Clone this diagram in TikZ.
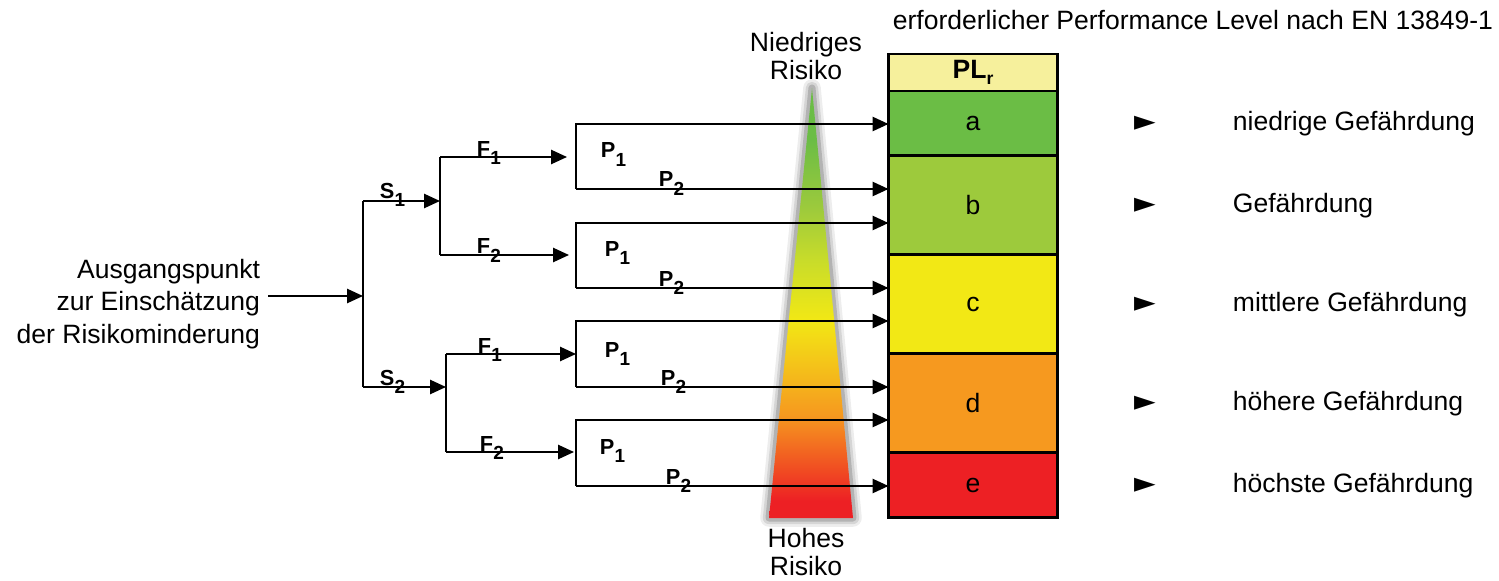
\documentclass[tikz,border=0pt]{standalone}
\usepackage{fontspec}
\setmainfont{Liberation Sans}
\newfontfamily\symfont{DejaVu Sans}
\usetikzlibrary{arrows.meta,positioning}

\definecolor{plhead}{HTML}{F6F09C}
\definecolor{plA}{HTML}{6BBD45}
\definecolor{plB}{HTML}{9DCA3C}
\definecolor{plC}{HTML}{F2E815}
\definecolor{plD}{HTML}{F6991F}
\definecolor{plE}{HTML}{ED2024}
\definecolor{riskYG}{HTML}{C8DC2A}
\pgfdeclareverticalshading{riskshade}{100bp}{color(0bp)=(plE); color(27bp)=(plE); color(37bp)=(plD);
  color(48bp)=(plC); color(55bp)=(riskYG); color(61bp)=(plB); color(69bp)=(plA); color(100bp)=(plA)}
\newcommand{\brl}[2]{\textbf{#1}\raisebox{-5pt}{\fontsize{10.8}{10.8}\selectfont\textbf{#2}}}

\begin{document}
\begin{tikzpicture}[x=0.02cm, y=-0.02cm, line width=1.1pt, font=\fontsize{15.1}{18.4}\selectfont,
    arr/.style={-{Triangle[length=9pt, width=8pt]}},
    row/.style={draw, line width=1.7pt, outer sep=0pt, minimum width=3.38cm, inner sep=0pt},
    txt/.style={inner sep=0pt},
    lbl/.style={anchor=base west, inner sep=0pt, font=\fontsize{12.4}{14}\selectfont},
    sym/.style={inner sep=0pt, font=\symfont\fontsize{16}{16}\selectfont}]
  \useasboundingbox (0,0) rectangle (1499,581);
  % ---------------- risk triangle ----------------
  \foreach \w/\o in {10/0.07, 7/0.10, 4/0.16}
    \draw[line width=\w pt, black, opacity=\o, line join=round] (812,88) -- (853,518) -- (769,518) -- cycle;
  \shade[shading=riskshade] (812,88) -- (853,518) -- (769,518) -- cycle;
  \node[txt, align=center, font=\fontsize{15.1}{16}\selectfont] (low) at (806,56) {Niedriges\\Risiko};
  \node[txt, align=center, font=\fontsize{15.1}{16.4}\selectfont] (high) at (806,552) {Hohes\\Risiko};
  % ---------------- PL table ----------------
  \node[txt, anchor=east] (title) at (1494,20) {erforderlicher Performance Level nach EN 13849-1};
  \node[row, fill=plhead, minimum height=0.74cm] (hd) at (973,72.5) {\textbf{PL}\raisebox{-3pt}{\fontsize{10}{10}\selectfont\textbf{r}}};
  \node[row, fill=plA, minimum height=1.30cm, below=0pt of hd] (a) {a};
  \node[row, fill=plB, minimum height=1.98cm, below=0pt of a] (b) {b};
  \node[row, fill=plC, minimum height=1.98cm, below=0pt of b] (c) {c};
  \node[row, fill=plD, minimum height=1.98cm, below=0pt of c] (d) {d};
  \node[row, fill=plE, minimum height=1.30cm, below=0pt of d] (e) {e};
  \foreach \r/\t in {a/niedrige Gefährdung, b/Gefährdung, c/mittlere Gefährdung, d/höhere Gefährdung, e/höchste Gefährdung} {
    \node[sym] (m\r) at (1145,0 |- \r) {►};
    \node[txt, anchor=west] (t\r) at (1232,0 |- \r) {\t};
  }
  % ---------------- decision tree ----------------
  \node[txt, anchor=east, align=right] (start) at (261,304) {Ausgangspunkt\\zur Einschätzung\\der Risikominderung};
  \coordinate (in) at (268,296);
  \coordinate (root) at (363,296);
  \coordinate (s1) at (363,201);
  \coordinate (s2) at (363,387);
  \coordinate (n1) at (440,201);
  \coordinate (n2) at (446,387);
  \coordinate (f11) at (440,157);
  \coordinate (f12) at (440,255);
  \coordinate (f21) at (446,354);
  \coordinate (f22) at (446,452);
  \coordinate (e11) at (567,157);
  \coordinate (e12) at (569,255);
  \coordinate (e21) at (576,354);
  \coordinate (e22) at (574,452);
  \draw[arr] (in) -- (root);
  \draw (s1) -- (s2);
  \draw[arr] (s1) -- (n1);
  \draw[arr] (s2) -- (n2);
  \draw (f11) -- (f12);
  \draw (f21) -- (f22);
  \foreach \f in {11,12,21,22} \draw[arr] (f\f) -- (e\f);
  \foreach \t/\b/\rt/\rb [count=\i] in {124/189/a/b, 223/288/b/c, 321/387/c/d, 420/486/d/e} {
    \coordinate (pt\i) at (576,\t);
    \coordinate (pb\i) at (576,\b);
    \draw[arr] (pb\i) -- (pt\i) -- (pt\i -| \rt.west);
    \draw[arr] (pb\i) -- (pb\i -| \rb.west);
  }
  % labels
  \node[lbl] (ls1) at (379,198) {\brl{S}{1}};
  \node[lbl] (ls2) at (379,385) {\brl{S}{2}};
  \node[lbl] (lf11) at (476,156) {\brl{F}{1}};
  \node[lbl] (lf12) at (476,254) {\brl{F}{2}};
  \node[lbl] (lf21) at (477,353) {\brl{F}{1}};
  \node[lbl] (lf22) at (479,451) {\brl{F}{2}};
  \foreach \x/\y [count=\i] in {600/158, 604/256, 604/357, 599/454}
    \node[lbl] (lp1\i) at (\x,\y) {\brl{P}{1}};
  \foreach \x/\y [count=\i] in {658/187, 658/286, 660/385, 665/484}
    \node[lbl] (lp2\i) at (\x,\y) {\brl{P}{2}};
\end{tikzpicture}
\end{document}
